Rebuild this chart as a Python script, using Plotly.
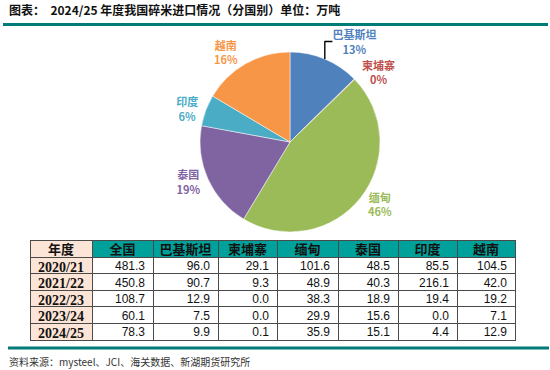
import plotly.graph_objects as go

W, H = 550, 370

# ---- data ----
countries = ["巴基斯坦", "柬埔寨", "缅甸", "泰国", "印度", "越南"]
share_2425 = [9.9, 0.1, 35.9, 15.1, 4.4, 12.9]
slice_colors = ["#4F81BD", "#C0504D", "#9BBB59", "#8064A2", "#4BACC6", "#F79646"]

years = ["2020/21", "2021/22", "2022/23", "2023/24", "2024/25"]
total = [481.3, 450.8, 108.7, 60.1, 78.3]
pakistan = [96.0, 90.7, 12.9, 7.5, 9.9]
cambodia = [29.1, 9.3, 0.0, 0.0, 0.1]
myanmar = [101.6, 48.9, 38.3, 29.9, 35.9]
thailand = [48.5, 40.3, 18.9, 15.6, 15.1]
india = [85.5, 216.1, 19.4, 0.0, 4.4]
vietnam = [104.5, 42.0, 19.2, 7.1, 12.9]
table_header = ["年度", "全国", "巴基斯坦", "柬埔寨", "缅甸", "泰国", "印度", "越南"]

title_text = "图表：  2024/25 年度我国碎米进口情况（分国别）单位：万吨"
source_text = "资料来源：mysteel、JCI、海关数据、新湖期货研究所"


def px(x):
    return x / W


def py(y):
    return 1 - y / H


fig = go.Figure()

fig.add_trace(go.Pie(
    labels=countries,
    values=share_2425,
    sort=False,
    direction="clockwise",
    rotation=0,
    marker=dict(colors=slice_colors, line=dict(color="white", width=0.5)),
    textposition="outside",
    texttemplate="<b>%{label}</b><br><b>%{percent:.0%}</b>",
    textfont=dict(family="Noto Sans CJK SC", size=11, color=slice_colors),
    showlegend=False,
    hoverinfo="label+value+percent",
    domain=dict(x=[px(200), px(380)], y=[py(232), py(52)]),
))

fmt = lambda arr: [f"{v:.1f}" for v in arr]
cols = [years, fmt(total), fmt(pakistan), fmt(cambodia),
        fmt(myanmar), fmt(thailand), fmt(india), fmt(vietnam)]
blank_cols = [[""] * len(years) for _ in cols]
col_w = [62, 61, 65, 59, 61, 60, 59, 58]
tx = [px(30), px(515.5)]
grid_line = dict(color="#4a4a4a", width=1)
header_font = dict(family="Noto Sans CJK SC", size=13, color="#111111", weight="bold")
cell_font = dict(family=["Liberation Serif"] + ["Liberation Sans Narrow, Liberation Sans"] * 7,
                 size=[14] + [12] * 7, color="#111111",
                 weight=["bold"] + ["normal"] * 7)

# grid + fills
fig.add_trace(go.Table(
    domain=dict(x=tx, y=[py(350), py(240)]),
    columnwidth=col_w,
    header=dict(values=[""] * len(table_header), height=17,
                fill_color=["#FCE4D6"] + ["#00A19A"] * 7, line=grid_line),
    cells=dict(values=blank_cols, height=16.6,
               fill_color=["#FCE4D6"] + ["white"] * 7, line=grid_line),
))
# text layer (shifted up to centre text vertically in the cells)
fig.add_trace(go.Table(
    domain=dict(x=tx, y=[py(346), py(236)]),
    columnwidth=col_w,
    header=dict(values=table_header, height=17, align="center",
                fill_color="rgba(0,0,0,0)", line=dict(color="rgba(0,0,0,0)", width=1),
                font=header_font),
    cells=dict(values=cols, height=16.6, align=["center"] + ["right"] * 7,
               fill_color="rgba(0,0,0,0)", line=dict(color="rgba(0,0,0,0)", width=1),
               font=cell_font),
))

# teal rules
fig.add_shape(type="line", xref="paper", yref="paper",
              x0=px(3), x1=px(548), y0=py(24.5), y1=py(24.5),
              line=dict(color="#007B78", width=3))
fig.add_shape(type="line", xref="paper", yref="paper",
              x0=px(8), x1=px(549), y0=py(348), y1=py(348),
              line=dict(color="#007B78", width=3))

fig.add_annotation(text=f"<b>{title_text}</b>", x=px(7), y=py(10), xref="paper", yref="paper",
                   xanchor="left", yanchor="middle", showarrow=False,
                   font=dict(family="Noto Sans CJK SC", size=12, color="#111111"))
fig.add_annotation(text=source_text, x=px(7), y=py(361), xref="paper", yref="paper",
                   xanchor="left", yanchor="middle", showarrow=False,
                   font=dict(family="Noto Sans CJK SC", size=10, color="#333333"))

fig.update_layout(
    width=W, height=H,
    margin=dict(l=0, r=0, t=0, b=0),
    paper_bgcolor="white",
    plot_bgcolor="white",
)

fig.write_html("out.html", config={"displayModeBar": False},
               post_script="document.body.style.margin='0';")
